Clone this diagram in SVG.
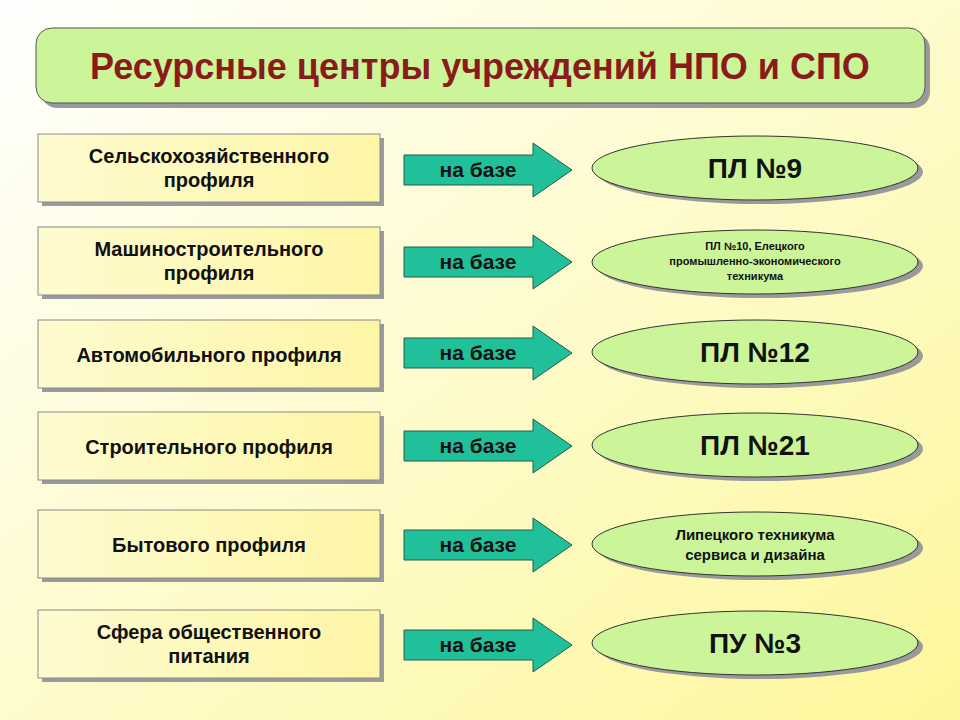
<svg xmlns="http://www.w3.org/2000/svg" width="960" height="720" viewBox="0 0 960 720">
<defs>
<linearGradient id="bg" x1="0" y1="0" x2="1" y2="1"><stop offset="0" stop-color="#ffffff"/><stop offset="1" stop-color="#fdf79a"/></linearGradient>
<linearGradient id="bx" x1="0" y1="0" x2="1" y2="0"><stop offset="0" stop-color="#fefbd0"/><stop offset="1" stop-color="#fdf6a6"/></linearGradient>
<path id="arr" d="M0,-15 H129 V-27 L168,0 L129,27 V15 H0 Z"/>
</defs>
<style>
.sh{fill:#9a9a9a}
.box{fill:url(#bx);stroke:#8a8a8a;stroke-width:1}
.ell{fill:#ccf59a;stroke:#333;stroke-width:1}
.ar{fill:#1fc09a;stroke:#2a5a4a;stroke-width:1}
text{font-family:"Liberation Sans",Arial,sans-serif;font-weight:bold;text-anchor:middle;fill:#111}
.l{font-size:20px}
.a{font-size:21px}
.e{font-size:28px}
.s{font-size:11px}
.m{font-size:15px}
.t{font-size:36px;fill:#8b1a1a}
</style>
<rect width="960" height="720" fill="url(#bg)"/>
<g id="title">
<rect x="41" y="33" width="889" height="75" rx="16" class="sh"/>
<rect x="36" y="28" width="889" height="75" rx="16" fill="#ccf59a" stroke="#555"/>
<text class="t" x="480" y="79">Ресурсные центры учреждений НПО и СПО</text>
</g>
<g id="b1"><rect x="42" y="138" width="342" height="68" class="sh"/><rect x="38" y="134" width="342" height="68" class="box"/><text class="l" x="209" y="163">Сельскохозяйственного</text><text class="l" x="209" y="187">профиля</text></g>
<g id="b2"><rect x="42" y="231" width="342" height="68" class="sh"/><rect x="38" y="227" width="342" height="68" class="box"/><text class="l" x="209" y="256">Машиностроительного</text><text class="l" x="209" y="280">профиля</text></g>
<g id="b3"><rect x="42" y="324" width="342" height="68" class="sh"/><rect x="38" y="320" width="342" height="68" class="box"/><text class="l" x="209" y="362">Автомобильного профиля</text></g>
<g id="b4"><rect x="42" y="416" width="342" height="68" class="sh"/><rect x="38" y="412" width="342" height="68" class="box"/><text class="l" x="209" y="454">Строительного профиля</text></g>
<g id="b5"><rect x="42" y="514" width="342" height="68" class="sh"/><rect x="38" y="510" width="342" height="68" class="box"/><text class="l" x="209" y="552">Бытового профиля</text></g>
<g id="b6"><rect x="42" y="614" width="342" height="68" class="sh"/><rect x="38" y="610" width="342" height="68" class="box"/><text class="l" x="209" y="639">Сфера общественного</text><text class="l" x="209" y="663">питания</text></g>
<g id="connectors">
<use href="#arr" x="404" y="170" class="ar"/><text class="a" x="478" y="177">на базе</text>
<use href="#arr" x="404" y="262" class="ar"/><text class="a" x="478" y="269">на базе</text>
<use href="#arr" x="404" y="353" class="ar"/><text class="a" x="478" y="360">на базе</text>
<use href="#arr" x="404" y="446" class="ar"/><text class="a" x="478" y="453">на базе</text>
<use href="#arr" x="404" y="545" class="ar"/><text class="a" x="478" y="552">на базе</text>
<use href="#arr" x="404" y="645" class="ar"/><text class="a" x="478" y="652">на базе</text>
</g>
<g id="e1"><ellipse cx="760" cy="172" rx="163" ry="32" class="sh"/><ellipse cx="755" cy="168" rx="163" ry="32" class="ell"/><text class="e" x="755" y="178">ПЛ №9</text></g>
<g id="e2"><ellipse cx="760" cy="266" rx="163" ry="32" class="sh"/><ellipse cx="755" cy="262" rx="163" ry="32" class="ell"/><text class="s" x="755" y="250">ПЛ №10, Елецкого</text><text class="s" x="755" y="265">промышленно-экономического</text><text class="s" x="755" y="280">техникума</text></g>
<g id="e3"><ellipse cx="760" cy="356" rx="163" ry="32" class="sh"/><ellipse cx="755" cy="352" rx="163" ry="32" class="ell"/><text class="e" x="755" y="362">ПЛ №12</text></g>
<g id="e4"><ellipse cx="760" cy="449" rx="163" ry="32" class="sh"/><ellipse cx="755" cy="445" rx="163" ry="32" class="ell"/><text class="e" x="755" y="455">ПЛ №21</text></g>
<g id="e5"><ellipse cx="760" cy="548" rx="163" ry="32" class="sh"/><ellipse cx="755" cy="544" rx="163" ry="32" class="ell"/><text class="m" x="755" y="540">Липецкого техникума</text><text class="m" x="755" y="560">сервиса и дизайна</text></g>
<g id="e6"><ellipse cx="760" cy="647" rx="163" ry="32" class="sh"/><ellipse cx="755" cy="643" rx="163" ry="32" class="ell"/><text class="e" x="755" y="653">ПУ №3</text></g>
</svg>
